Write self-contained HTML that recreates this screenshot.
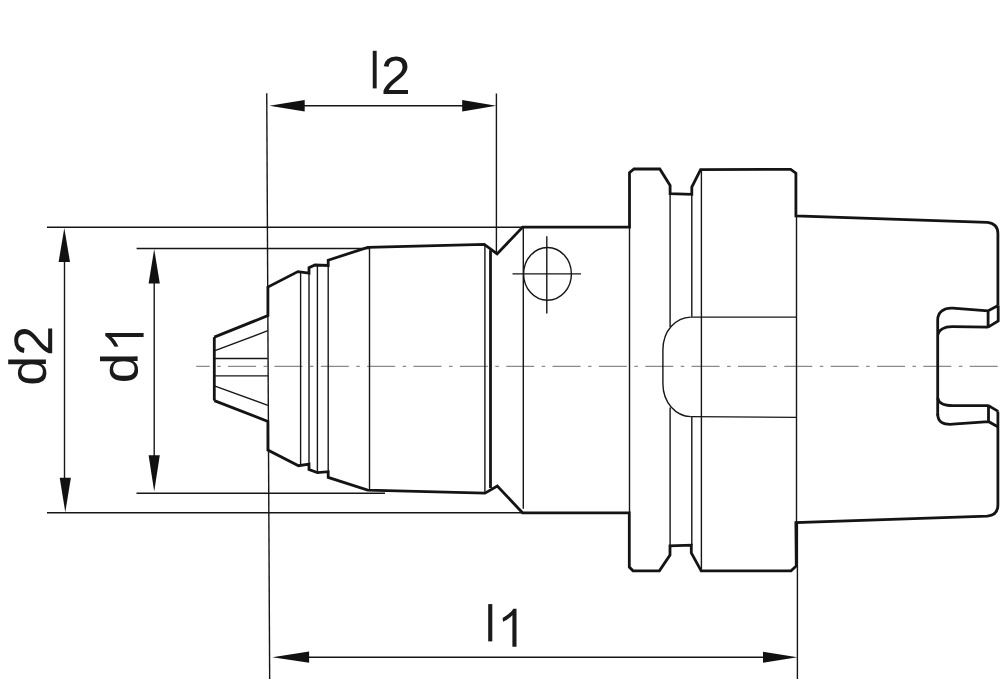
<!DOCTYPE html>
<html><head><meta charset="utf-8"><style>html,body{margin:0;padding:0;background:#fff;width:1000px;height:679px;overflow:hidden}svg{display:block}</style></head><body>
<svg width="1000" height="679" viewBox="0 0 1000 679">
<rect width="1000" height="679" fill="#fff"/>
<line x1="196.2" y1="366.3" x2="1000" y2="366.3" stroke="#8a8a8a" stroke-width="1.2" stroke-dasharray="28 7.5 3.5 7.35" stroke-dashoffset="14.45"/>
<g stroke="#161616" stroke-width="1.4" fill="none">
<line x1="47" y1="227.3" x2="522.7" y2="227.3"/>
<line x1="136.6" y1="248.5" x2="368.9" y2="248.5"/>
<line x1="47" y1="512.8" x2="522.5" y2="512.8"/>
<line x1="136.5" y1="493.2" x2="385" y2="493.2"/>
<line x1="266.74" y1="93.3" x2="269.67" y2="679"/>
<line x1="496.4" y1="93.5" x2="496.4" y2="253.3"/>
<line x1="797.4" y1="523" x2="797.4" y2="679"/>
<line x1="64.5" y1="255" x2="64.5" y2="485"/>
<line x1="154.2" y1="276" x2="154.2" y2="462"/>
<line x1="300" y1="105.7" x2="465" y2="105.7"/>
<line x1="300" y1="657.2" x2="766" y2="657.2"/>
<line x1="214.3" y1="350.9" x2="267.9" y2="330.7"/>
<line x1="214.3" y1="358.5" x2="267.9" y2="358.5"/>
<line x1="214.3" y1="375.9" x2="267.9" y2="375.9"/>
<line x1="214.3" y1="385.9" x2="267.9" y2="405.3"/>
<line x1="300.6" y1="271.6" x2="300.6" y2="465"/>
<line x1="309" y1="267.7" x2="309" y2="469.6"/>
<line x1="317.4" y1="265.2" x2="317.4" y2="472.4"/>
<line x1="328.2" y1="260.2" x2="328.2" y2="477.4"/>
<line x1="369.5" y1="247" x2="369.5" y2="490.2"/>
<line x1="484.9" y1="244.5" x2="484.9" y2="492.8"/>
<line x1="523.3" y1="227.1" x2="523.3" y2="508.7"/>
<line x1="629.5" y1="227.1" x2="629.5" y2="512.8"/>
<line x1="670.1" y1="193.7" x2="670.1" y2="327"/>
<line x1="670.1" y1="407.5" x2="670.1" y2="545.8"/>
<line x1="691.8" y1="194.3" x2="691.8" y2="316.8"/>
<line x1="691.8" y1="416.6" x2="691.8" y2="545.1"/>
<line x1="701.4" y1="169.6" x2="701.4" y2="570.8"/>
<line x1="796.5" y1="216" x2="796.5" y2="522.5"/>
<line x1="690.7" y1="317.1" x2="796" y2="317.1"/>
<line x1="690.7" y1="416.6" x2="796" y2="417.4"/>
<line x1="512.5" y1="273.9" x2="581" y2="273.9"/>
<line x1="546.8" y1="236.2" x2="546.8" y2="313.5"/>
<path d="M690.7,317.1 C676,317.7 663,330 662.9,349.8 L662.9,383.8 C663,403 676,416 690.7,416.6"/>
<ellipse cx="547.5" cy="273.9" rx="23.9" ry="26.4"/>
</g>
<g stroke="#141414" stroke-width="2.8" fill="none" stroke-linejoin="miter" stroke-miterlimit="2">
<path d="M214.3,337.1 L267.9,315.6 L267.9,287 L297.9,271.6 L309,273.1 L309,267.7 L315,265 L328.2,265.5 L328.2,260.2 L367.7,247.4 L484.3,244.4 L497.1,253.9 L522.7,227.1 L629.5,227.1 L629.5,172.7 L634,169 L659.8,169 L670.1,185.5 L670.1,193.7 L691.8,194.3 L691.8,187.1 L700.6,169.6 L790.7,169.4 L795.9,173.1 L795.9,216 L987.3,222.3 Q997.9,223.5 997.9,233.6 L997.9,305.5"/>
<path d="M214.3,400.6 L267.9,421.4 L267.9,450.1 L298.5,465.7 L309,464.2 L309,469.6 L317.4,472.6 L328.2,471.7 L328.2,477.4 L367.7,490.1 L485,493.2 L497.3,486 L522.5,512.8 L629.3,512.8 L629.3,567.1 L633,570.8 L659.4,570.8 L670,555 L670,545.8 L691.3,545.1 L691.3,552.8 L701.2,570.8 L791,570.8 L796.3,566 L795.9,522.5 L987.3,516.2 Q997.9,515 997.9,504.9 L997.9,411.4"/>
<path d="M214.3,337.1 L214.3,400.6"/>
<path d="M490.5,250.2 L490.5,488"/>
<path d="M998.2,305.5 L988.1,310.8 L988.1,327.1 L998.2,320.9 L998.2,305.5 M988.1,310.8 L952.7,308.1 C944,307.5 937.7,312 937.7,320 L937.7,415.4 M988.1,327.1 L952.7,326.7 C944,326.5 938.5,330 937.7,335 "/>
<path d="M998.2,411.4 L988.5,405.6 L988.5,421.6 L998.2,426.9 M988.5,405.6 L952.7,405.6 C944,405.6 938.5,403 937.7,398 M988.5,421.6 L952.7,424.2 C943,424.8 937.7,422 937.7,414 "/>
</g>
<g fill="#111">
<path d="M269.4,105.7 L304.7,100.0 L304.7,111.4 Z"/>
<path d="M496.2,105.7 L462.2,100.0 L462.2,111.4 Z"/>
<path d="M272.3,657.2 L309.1,651.6 L309.1,662.8000000000001 Z"/>
<path d="M797.4,657.2 L763.0,651.7 L763.0,662.7 Z"/>
<path d="M64.3,228 L58.599999999999994,262 L70.0,262 Z"/>
<path d="M65.3,512.2 L59.699999999999996,477.80000000000007 L70.89999999999999,477.80000000000007 Z"/>
<path d="M154.2,249.0 L148.6,283.5 L159.79999999999998,283.5 Z"/>
<path d="M154.2,491.6 L148.6,455.3 L159.79999999999998,455.3 Z"/>
</g>
<g fill="#1a1a1a">
<rect x="372.75" y="50.8" width="3.9" height="37.6"/>
<path d="M103 0V127Q154 244 227.5 333.5Q301 423 382.0 495.5Q463 568 542.5 630.0Q622 692 686.0 754.0Q750 816 789.5 884.0Q829 952 829 1038Q829 1154 761.0 1218.0Q693 1282 572 1282Q457 1282 382.5 1219.5Q308 1157 295 1044L111 1061Q131 1230 254.5 1330.0Q378 1430 572 1430Q785 1430 899.5 1329.5Q1014 1229 1014 1044Q1014 962 976.5 881.0Q939 800 865.0 719.0Q791 638 582 468Q467 374 399.0 298.5Q331 223 301 153H1036V0Z" transform="matrix(0.02626,0,0,-0.02615,380.795,94.000)"/>
<rect x="488.2" y="604.1" width="4.1" height="37.3"/>
<path d="M0,9.23 C4.17,6.46 8.62,3.80 10.70,0 L13.90,0 L13.90,38.00 L9.80,38.00 L9.80,6.46 C6.95,9.50 3.48,11.40 0.42,13.03 Z" transform="translate(502.6,608.8)"/>
<path d="M821 174Q771 70 688.5 25.0Q606 -20 484 -20Q279 -20 182.5 118.0Q86 256 86 536Q86 1102 484 1102Q607 1102 689.0 1057.0Q771 1012 821 914H823L821 1035V1484H1001V223Q1001 54 1007 0H835Q832 16 828.5 74.0Q825 132 825 174ZM275 542Q275 315 335.0 217.0Q395 119 530 119Q683 119 752.0 225.0Q821 331 821 554Q821 769 752.0 869.0Q683 969 532 969Q396 969 335.5 868.5Q275 768 275 542Z" transform="matrix(0,-0.02606,-0.02540,0,45.892,385.641)"/>
<path d="M103 0V127Q154 244 227.5 333.5Q301 423 382.0 495.5Q463 568 542.5 630.0Q622 692 686.0 754.0Q750 816 789.5 884.0Q829 952 829 1038Q829 1154 761.0 1218.0Q693 1282 572 1282Q457 1282 382.5 1219.5Q308 1157 295 1044L111 1061Q131 1230 254.5 1330.0Q378 1430 572 1430Q785 1430 899.5 1329.5Q1014 1229 1014 1044Q1014 962 976.5 881.0Q939 800 865.0 719.0Q791 638 582 468Q467 374 399.0 298.5Q331 223 301 153H1036V0Z" transform="matrix(0,-0.02647,-0.02657,0,52.200,355.927)"/>
<path d="M821 174Q771 70 688.5 25.0Q606 -20 484 -20Q279 -20 182.5 118.0Q86 256 86 536Q86 1102 484 1102Q607 1102 689.0 1057.0Q771 1012 821 914H823L821 1035V1484H1001V223Q1001 54 1007 0H835Q832 16 828.5 74.0Q825 132 825 174ZM275 542Q275 315 335.0 217.0Q395 119 530 119Q683 119 752.0 225.0Q821 331 821 554Q821 769 752.0 869.0Q683 969 532 969Q396 969 335.5 868.5Q275 768 275 542Z" transform="matrix(0,-0.02671,-0.02533,0,137.593,383.197)"/>
<path d="M0,9.31 C4.17,6.51 8.62,3.83 10.70,0 L13.90,0 L13.90,38.30 L9.80,38.30 L9.80,6.51 C6.95,9.57 3.48,11.49 0.42,13.14 Z" transform="translate(105.3,346.8) rotate(-90)"/>
</g>
</svg>
</body></html>
